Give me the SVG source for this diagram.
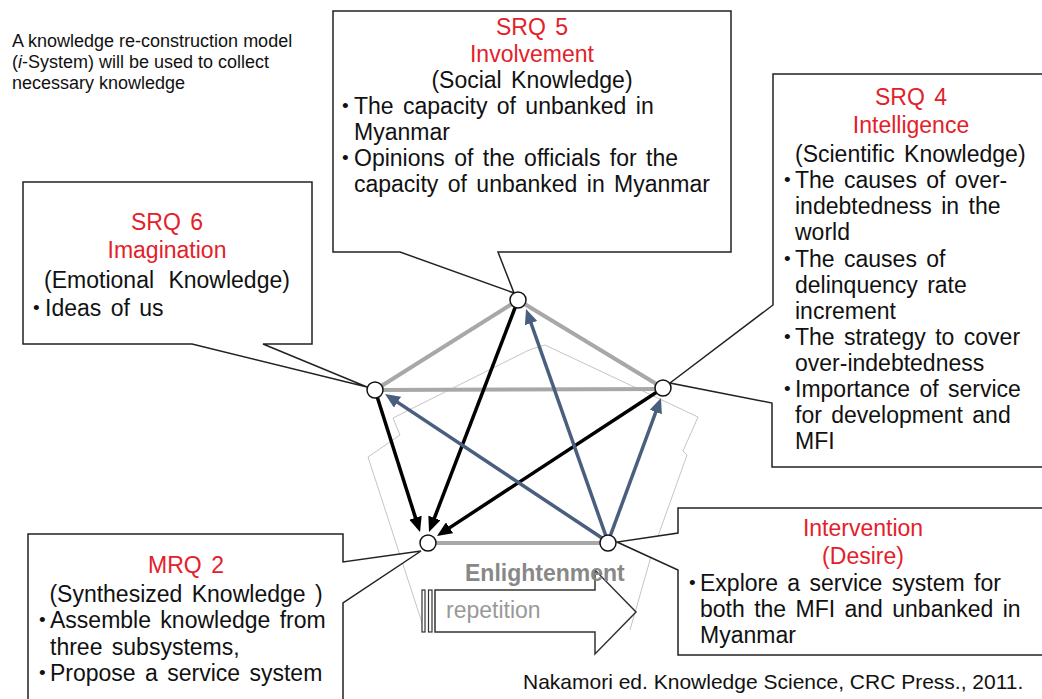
<svg xmlns="http://www.w3.org/2000/svg" width="1042" height="699" viewBox="0 0 1042 699">
<style>
text{font-family:"Liberation Sans",Arial,sans-serif;fill:#111}
.t{font-size:23px;word-spacing:3px}
.bu{font-size:19px}
.r{fill:#e3212a}
.c{text-anchor:middle}
.box{fill:#fff;stroke:#222;stroke-width:1.5}
.g{stroke:#a8a8a8;stroke-width:4;fill:none}
.k{stroke:#000;stroke-width:3.5;fill:none}
.b{stroke:#4a5e7e;stroke-width:3.5;fill:none}
.node{fill:#fff;stroke:#111;stroke-width:1.5}
</style>
<defs>
<marker id="ak" markerUnits="userSpaceOnUse" markerWidth="15" markerHeight="13" viewBox="0 0 15 13" refX="7" refY="6.5" orient="auto"><path d="M0,0 L15,6.5 L0,13 Z" fill="#000"/></marker>
<marker id="ab" markerUnits="userSpaceOnUse" markerWidth="15" markerHeight="13" viewBox="0 0 15 13" refX="7" refY="6.5" orient="auto"><path d="M0,0 L15,6.5 L0,13 Z" fill="#4a5e7e"/></marker>
</defs>

<!-- note -->
<g id="note">
<text x="12" y="47" style="font-size:18px">A knowledge re-construction model</text>
<text x="12" y="68" style="font-size:18px">(<tspan font-style="italic">i</tspan>-System) will be used to collect</text>
<text x="12" y="89" style="font-size:18px">necessary knowledge</text>
</g>

<!-- background faint pentagon -->
<polyline points="425,632 368,457 400,435 393,418 527,351 532,349 545,345 698,417 683,451 687,455 652,553 630,630" fill="none" stroke="#c4c4c4" stroke-width="1"/>

<!-- callouts -->
<g id="srq5">
<path class="box" d="M333,11 H731 V252 H498 L514,293 L400,252 H333 Z"/>
<text class="t r c" x="532" y="35">SRQ 5</text>
<text class="t r c" x="532" y="62">Involvement</text>
<text class="t c" x="532" y="88">(Social Knowledge)</text>
<text class="bu" x="342" y="112">•</text><text class="t" x="354" y="114">The capacity of unbanked in</text>
<text class="t" x="354" y="140">Myanmar</text>
<text class="bu" x="342" y="164">•</text><text class="t" x="354" y="166">Opinions of the officials for the</text>
<text class="t" x="354" y="192">capacity of unbanked in Myanmar</text>
</g>

<g id="srq6">
<path class="box" d="M23,182 H312 V344 H263 L367,387 L192,344 H23 Z"/>
<text class="t r c" x="167" y="230">SRQ 6</text>
<text class="t r c" x="167" y="258">Imagination</text>
<text class="t c" x="167" y="288" style="word-spacing:8px">(Emotional Knowledge)</text>
<text class="bu" x="33" y="314">•</text><text class="t" x="45" y="316">Ideas of us</text>
</g>

<g id="srq4">
<path class="box" d="M773,74 H1050 V467 H772 V403 L670,383 L773,305 Z"/>
<text class="t r c" x="911" y="105">SRQ 4</text>
<text class="t r c" x="911" y="133">Intelligence</text>
<text class="t" x="795" y="162">(Scientific Knowledge)</text>
<text class="bu" x="784" y="186">•</text><text class="t" x="795" y="188">The causes of over-</text>
<text class="t" x="795" y="214">indebtedness in the</text>
<text class="t" x="795" y="240">world</text>
<text class="bu" x="784" y="265">•</text><text class="t" x="795" y="267">The causes of</text>
<text class="t" x="795" y="293">delinquency rate</text>
<text class="t" x="795" y="319">increment</text>
<text class="bu" x="784" y="343">•</text><text class="t" x="795" y="345">The strategy to cover</text>
<text class="t" x="795" y="371">over-indebtedness</text>
<text class="bu" x="784" y="395">•</text><text class="t" x="795" y="397">Importance of service</text>
<text class="t" x="795" y="423">for development and</text>
<text class="t" x="795" y="449">MFI</text>
</g>

<g id="intervention">
<path class="box" d="M678,508 H1050 V655 H678 V570 L617,542 L678,533 Z"/>
<text class="t r c" x="863" y="536">Intervention</text>
<text class="t r c" x="863" y="564">(Desire)</text>
<text class="bu" x="689" y="589">•</text><text class="t" x="700" y="591">Explore a service system for</text>
<text class="t" x="700" y="617">both the MFI and unbanked in</text>
<text class="t" x="700" y="643">Myanmar</text>
</g>

<g id="mrq2">
<path class="box" d="M28,534 H343 V562 L421,551 L343,603 V710 H28 Z"/>
<text class="t r c" x="186" y="573">MRQ 2</text>
<text class="t c" x="186" y="602">(Synthesized Knowledge )</text>
<text class="bu" x="39" y="626">•</text><text class="t" x="50" y="628">Assemble knowledge from</text>
<text class="t" x="50" y="655">three subsystems,</text>
<text class="bu" x="39" y="679">•</text><text class="t" x="50" y="681">Propose a service system</text>
</g>

<!-- repetition arrow -->
<g id="repetition">
<path d="M435,590 H595 V570 L636,612 L595,654 V632 H435 Z" fill="#fff" stroke="#333" stroke-width="1.5"/>
<rect x="422" y="590" width="3" height="42" fill="#fff" stroke="#333" stroke-width="1.2"/>
<rect x="428.5" y="590" width="3.5" height="42" fill="#fff" stroke="#333" stroke-width="1.2"/>
<text x="446" y="618" style="font-size:23px;fill:#999">repetition</text>
<text x="465" y="581" style="font-size:23px;font-weight:bold;fill:#888">Enlightenment</text>
</g>

<!-- connectors -->
<g id="connectors">
<line class="g" x1="375" y1="390" x2="518" y2="300"/>
<line class="g" x1="518" y1="300" x2="663" y2="388"/>
<line class="g" x1="375" y1="390" x2="663" y2="389"/>
<line class="g" x1="428" y1="543" x2="608" y2="543"/>
<line class="k" x1="375" y1="390" x2="417.6" y2="524.4" marker-end="url(#ak)"/>
<line class="k" x1="518" y1="300" x2="431.9" y2="524.5" marker-end="url(#ak)"/>
<line class="k" x1="663" y1="388" x2="443.7" y2="531.6" marker-end="url(#ak)"/>
<line class="b" x1="608" y1="542" x2="391.7" y2="398.4" marker-end="url(#ab)"/>
<line class="b" x1="608" y1="542" x2="528.7" y2="316.5" marker-end="url(#ab)"/>
<line class="b" x1="608" y1="542" x2="658.2" y2="405.5" marker-end="url(#ab)"/>
</g>

<!-- nodes -->
<g id="n-srq5"><circle class="node" cx="518" cy="300" r="8"/></g>
<g id="n-srq6"><circle class="node" cx="375" cy="390" r="8"/></g>
<g id="n-srq4"><circle class="node" cx="663" cy="388" r="8"/></g>
<g id="n-mrq2"><circle class="node" cx="428" cy="543" r="8"/></g>
<g id="n-int"><circle class="node" cx="608" cy="543" r="8"/></g>

<text x="523" y="689" style="font-size:21px">Nakamori ed. Knowledge Science, CRC Press., 2011.</text>
</svg>
